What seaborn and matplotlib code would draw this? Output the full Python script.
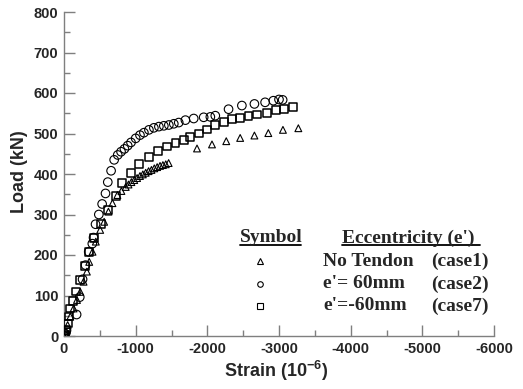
import matplotlib
matplotlib.use("Agg")
import matplotlib.pyplot as plt
import seaborn as sns
import pandas as pd
from matplotlib.lines import Line2D
from matplotlib.ticker import MultipleLocator

# ---- data (strain in 10^-6, load in kN) ----
case1_strain = [0, -28, -51, -88, -134, -181, -227, -273, -319, -352, -398, -444, -505, -560,
                -620, -676, -745, -801, -861, -900, -940, -980, -1020, -1060, -1100, -1140,
                -1180, -1220, -1260, -1300, -1340, -1380, -1420, -1460,
                -1856, -2065, -2264, -2458, -2657, -2851, -3055, -3270]
case1_load = [0, 11, 27, 48, 68, 89, 109, 134, 159, 183, 208, 233, 262, 282,
              307, 328, 348, 358, 368, 374, 380, 385, 390, 395, 399, 403,
              407, 410, 414, 417, 420, 422, 424, 427,
              463, 473, 481, 489, 495, 501, 509, 513]

case2_strain = [0, -15, -35, -176, -220, -259, -300, -345, -395, -412, -440, -486, -532, -579,
                -611, -657, -700, -750, -796, -843, -889, -935, -1000, -1060, -1115, -1185,
                -1254, -1324, -1393, -1463, -1532, -1601, -1694, -1810, -1949, -2042, -2111,
                -2296, -2482, -2657, -2806, -2921, -3000, -3051]
case2_load = [0, 6, 14, 53, 96, 140, 175, 208, 228, 243, 276, 300, 326, 352,
              380, 408, 435, 447, 455, 462, 470, 478, 488, 496, 502, 509,
              514, 517, 519, 521, 524, 527, 533, 537, 540, 541, 544,
              560, 569, 573, 577, 581, 584, 583]

case7_strain = [0, -14, -28, -51, -74, -88, -120, -171, -227, -292, -352, -421, -514, -616,
                -722, -806, -931, -1046, -1185, -1315, -1440, -1556, -1671, -1764, -1879,
                -1995, -2111, -2227, -2343, -2458, -2574, -2699, -2838, -2958, -3074, -3190]
case7_load = [0, 2, 15, 31, 48, 68, 87, 110, 138, 173, 207, 242, 277, 312,
              345, 377, 402, 424, 441, 457, 468, 476, 484, 492, 500,
              510, 520, 528, 535, 539, 544, 547, 551, 557, 560, 565]

legend_names = ["No Tendon", "e'= 60mm", "e'=-60mm"]
legend_cases = ["(case1)", "(case2)", "(case7)"]
x_ticks = [0, -1000, -2000, -3000, -4000, -5000, -6000]
y_ticks = [0, 100, 200, 300, 400, 500, 600, 700, 800]

# ---- style ----
sns.set_style("ticks")
plt.rcParams["font.family"] = ["Liberation Sans", "DejaVu Sans"]
plt.rcParams["axes.unicode_minus"] = False
plt.rcParams["mathtext.fontset"] = "custom"
plt.rcParams["mathtext.rm"] = "Liberation Sans"
plt.rcParams["mathtext.bf"] = "Liberation Sans:bold"

grey = "#7f7f7f"
fig = plt.figure(figsize=(5.23, 3.89), dpi=100)
ax = fig.add_axes([64 / 523, 53 / 389, 430 / 523, 324 / 389])

df1 = pd.DataFrame({"strain": case1_strain, "load": case1_load})
df2 = pd.DataFrame({"strain": case2_strain, "load": case2_load})
df7 = pd.DataFrame({"strain": case7_strain, "load": case7_load})

sns.scatterplot(data=df1, x="strain", y="load", marker="^", s=24, facecolor="none",
                edgecolor="black", linewidth=0.8, ax=ax, zorder=3)
sns.scatterplot(data=df2, x="strain", y="load", marker="o", s=38, facecolor="none",
                edgecolor="black", linewidth=0.8, ax=ax, zorder=3)
sns.scatterplot(data=df7, x="strain", y="load", marker="s", s=32, facecolor="none",
                edgecolor="black", linewidth=1.1, ax=ax, zorder=3)

ax.set_xlim(0, -6000)
ax.set_ylim(0, 800)
ax.set_xticks(x_ticks)
ax.set_yticks(y_ticks)
ax.xaxis.set_minor_locator(MultipleLocator(500))
ax.yaxis.set_minor_locator(MultipleLocator(50))
ax.set_xticklabels([str(v) for v in x_ticks], fontweight="bold", fontsize=10.5)
ax.set_yticklabels([str(v) for v in y_ticks], fontweight="bold", fontsize=10.5)

for s in ["top", "right"]:
    ax.spines[s].set_visible(False)
for s in ["left", "bottom"]:
    ax.spines[s].set_color(grey)
    ax.spines[s].set_linewidth(1.0)

ax.tick_params(which="major", direction="in", length=8, width=1.0, color=grey, pad=4)
ax.tick_params(which="minor", direction="in", length=4, width=1.0, color=grey)

ax.set_xlabel(r"Strain (10$^{\mathbf{-6}}$)", fontweight="bold", fontsize=13)
ax.set_ylabel("Load (kN)", fontweight="bold", fontsize=13)
ax.xaxis.set_label_coords((276 - 64) / 430, -(371 - 336) / 324)
ax.yaxis.set_label_coords(-(64 - 19) / 430, (336 - 172) / 324)
ax.xaxis.label.set_va("center")
ax.yaxis.label.set_va("center")

# ---- legend table ----
def axx(px):
    return (px - 64) / 430

def axy(py):
    return (336 - py) / 324

serif = ["Liberation Serif", "DejaVu Serif"]
fs = 14
ax.text(axx(240), axy(238), "Symbol", transform=ax.transAxes, family=serif,
        fontweight="bold", fontsize=fs, va="center", ha="left")
ax.text(axx(342), axy(238), "Eccentricity (e')", transform=ax.transAxes, family=serif,
        fontweight="bold", fontsize=fs, va="center", ha="left")
ax.add_line(Line2D([axx(240), axx(301)], [axy(244.5), axy(244.5)], transform=ax.transAxes,
                   color="black", lw=1.3))
ax.add_line(Line2D([axx(342), axx(480)], [axy(244.5), axy(244.5)], transform=ax.transAxes,
                   color="black", lw=1.3))

row_y = [261, 284, 306]
row_markers = ["^", "o", "s"]
for yy, mk, name, case in zip(row_y, row_markers, legend_names, legend_cases):
    ax.add_line(Line2D([axx(260)], [axy(yy)], transform=ax.transAxes, marker=mk,
                       markersize=4, markerfacecolor="none", markeredgecolor="black",
                       markeredgewidth=0.8, linestyle="none"))
    ax.text(axx(323), axy(yy), name, transform=ax.transAxes, family=serif,
            fontweight="bold", fontsize=fs, va="center", ha="left")
    ax.text(axx(489), axy(yy), case, transform=ax.transAxes, family=serif,
            fontweight="bold", fontsize=fs, va="center", ha="right")

fig.savefig("out.png", dpi=100)
